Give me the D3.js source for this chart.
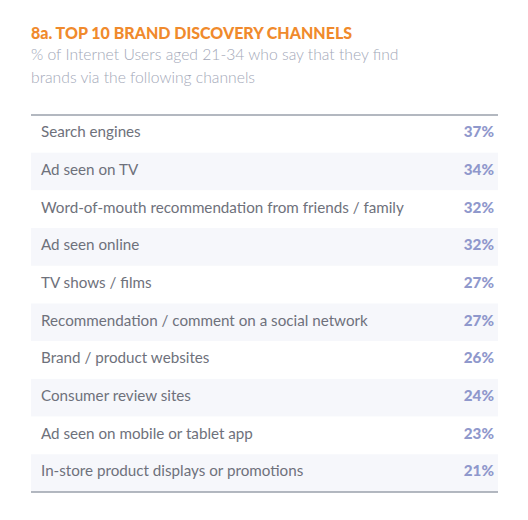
<!DOCTYPE html>
<html>
<head>
<meta charset="utf-8">
<script src="https://cdn.jsdelivr.net/npm/d3@7"></script>
<style>
  body { margin: 0; background: #fff; font-family: "Lato", "Open Sans", sans-serif; }
</style>
</head>
<body>
<svg id="chart" width="528" height="520"></svg>
<script>
var channels = ["Search engines", "Ad seen on TV", "Word-of-mouth recommendation from friends / family",
  "Ad seen online", "TV shows / films", "Recommendation / comment on a social network",
  "Brand / product websites", "Consumer review sites", "Ad seen on mobile or tablet app",
  "In-store product displays or promotions"];
var shares = [37, 34, 32, 32, 27, 27, 26, 24, 23, 21];

var svg = d3.select("#chart");
var margin = {left: 31, right: 30, top: 115, bottom: 28};
var width = 528 - margin.left - margin.right,
    height = 520 - margin.top - margin.bottom;

/* title block */
svg.append("text").attr("x", 31).attr("y", 39)
    .style("font-size", "16px").style("font-weight", "900").style("fill", "#f08a2c")
    .text("8a. TOP 10 BRAND DISCOVERY CHANNELS");
svg.append("text").attr("x", 31).attr("y", 60)
    .style("font-size", "15.7px").style("font-weight", "300").style("fill", "#a3a8b8")
    .text("% of Internet Users aged 21-34 who say that they find");
svg.append("text").attr("x", 31).attr("y", 83)
    .style("font-size", "15.7px").style("font-weight", "300").style("fill", "#a3a8b8")
    .text("brands via the following channels");

var y = d3.scaleBand().domain(channels).range([0, height]);

var g = svg.append("g").attr("transform", "translate(" + margin.left + "," + margin.top + ")");

var rows = g.selectAll(".row").data(channels).enter().append("g")
    .attr("class", "row")
    .attr("transform", function(d) { return "translate(0," + y(d) + ")"; });

rows.append("rect")
    .attr("width", width).attr("height", y.bandwidth())
    .attr("fill", function(d, i) { return i % 2 ? "#f6f7fb" : "#fff"; });

rows.append("text")
    .attr("x", 10).attr("y", y.bandwidth() / 2 - 2).attr("dy", "0.35em")
    .style("font-size", "15.2px").style("fill", "#6e717b")
    .text(function(d) { return d; });

rows.append("text")
    .attr("x", width - 4).attr("y", y.bandwidth() / 2 - 2).attr("dy", "0.35em")
    .attr("text-anchor", "end")
    .style("font-size", "15.2px").style("font-weight", "900").style("fill", "#8f98cc")
    .text(function(d, i) { return shares[i] + "%"; });

g.append("line").attr("x1", 0).attr("x2", width).attr("y1", 0).attr("y2", 0)
    .attr("stroke", "#9aa0ab").attr("stroke-width", 1.5);
g.append("line").attr("x1", 0).attr("x2", width).attr("y1", height).attr("y2", height)
    .attr("stroke", "#9aa0ab").attr("stroke-width", 1.5);
</script>
</body>
</html>
